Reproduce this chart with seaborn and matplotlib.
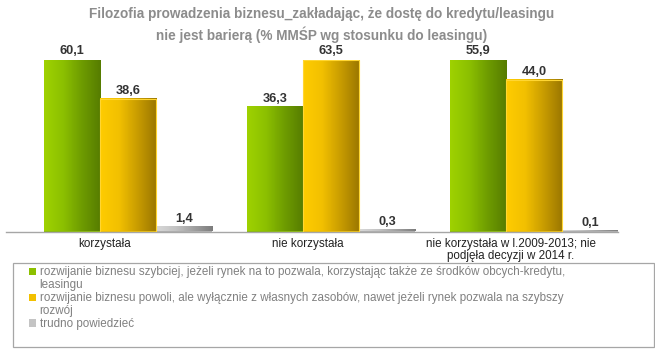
import numpy as np
import pandas as pd
import matplotlib
matplotlib.use("Agg")
import matplotlib.pyplot as plt
import seaborn as sns
from matplotlib.patches import Patch, Rectangle
from matplotlib.colors import LinearSegmentedColormap

# ---- data ----
categories = ["korzystała", "nie korzystała",
              "nie korzystała w l.2009-2013; nie\npodjęła decyzji w 2014 r."]
series = ["rozwijanie biznesu szybciej, jeżeli rynek na to pozwala, korzystając także ze środków obcych-kredytu, leasingu",
          "rozwijanie biznesu powoli, ale wyłącznie z własnych zasobów, nawet jeżeli rynek pozwala na szybszy rozwój",
          "trudno powiedzieć"]
legend_lines = [["rozwijanie biznesu szybciej, jeżeli rynek na to pozwala, korzystając także ze środków obcych-kredytu,",
                 "leasingu"],
                ["rozwijanie biznesu powoli, ale wyłącznie z własnych zasobów, nawet jeżeli rynek pozwala na szybszy",
                 "rozwój"],
                ["trudno powiedzieć"]]
fast_values = [60.1, 36.3, 55.9]
slow_values = [38.6, 63.5, 44.0]
unsure_values = [1.4, 0.3, 0.1]
title_lines = ["Filozofia prowadzenia biznesu_zakładając, że dostę do kredytu/leasingu",
               "nie jest barierą (% MMŚP wg stosunku do leasingu)"]

df = pd.DataFrame({
    "kategoria": categories * 3,
    "seria": [series[0]] * 3 + [series[1]] * 3 + [series[2]] * 3,
    "wartosc": fast_values + slow_values + unsure_values,
})

base_colors = ["#86bb00", "#f0c000", "#b0b0b0"]
gradients = [["#9fd200", "#8cc000", "#6e9c00", "#567c00"],
             ["#ffcc00", "#f2c000", "#c89c00", "#9a7600"],
             ["#d8d8d8", "#c4c4c4", "#a0a0a0", "#7c7c7c"]]

sns.set_theme(style="white")
plt.rcParams["font.family"] = ["Liberation Sans", "DejaVu Sans"]

fig = plt.figure(figsize=(6.55, 3.55), dpi=100)
W, H = 655, 355
ax = fig.add_axes([6 / W, (H - 231.5) / H, 612 / W, 172 / H])

sns.barplot(data=df, x="kategoria", y="wartosc", hue="seria", order=categories,
            hue_order=series, palette=base_colors, width=0.83, dodge=True,
            legend=False, ax=ax, saturation=1, linewidth=0, zorder=2)

YMAX = 50
for i, cont in enumerate(ax.containers):
    cmap = LinearSegmentedColormap.from_list(f"g{i}", gradients[i])
    grad = np.linspace(0, 1, 128).reshape(1, -1)
    for bar in cont:
        x0 = bar.get_x()
        w = bar.get_width()
        h = bar.get_height()
        top = min(h, YMAX)
        ax.imshow(grad, cmap=cmap, aspect="auto", extent=(x0, x0 + w, 0, top),
                  zorder=3, interpolation="bilinear")
        if i == 1:
            ax.add_patch(Rectangle((x0, 0), w, top, fill=False, edgecolor="#ffd633",
                                   linewidth=0.8, zorder=4))
        txt = f"{h:.1f}".replace(".", ",")
        ax.annotate(txt, (x0 + w / 2, top), xytext=(0, 1.5), textcoords="offset points",
                    ha="center", va="bottom", fontsize=9.2, fontweight="bold",
                    color="#333333", annotation_clip=False, zorder=5)

ax.set_ylim(0, YMAX)
ax.set_xlim(-0.602, 2.413)
ax.set_yticks([])
ax.set_ylabel("")
ax.set_xlabel("")
for s in ["top", "right", "left"]:
    ax.spines[s].set_visible(False)
ax.spines["bottom"].set_color("#a6a6a6")
ax.spines["bottom"].set_linewidth(1.0)

label_pos = [-0.115, 0.885, 1.885]
ax.set_xticks(label_pos)
ax.set_xticklabels(categories, fontsize=8.4, color="#222222", linespacing=1.0)
ax.tick_params(axis="x", which="major", length=0, pad=4.5)
ax.set_xticks([0.386, 1.40, 2.405], minor=True)
ax.tick_params(axis="x", which="minor", length=3, color="#a6a6a6", width=0.8, direction="out")

for k, (line, base) in enumerate(zip(title_lines, [18.3, 40.0])):
    fig.text(322 / W, 1 - base / H, line, ha="center", va="baseline", fontsize=9.8,
             fontweight="bold", color="#8c8c8c")

# legend box
fig.patches.append(Rectangle((13 / W, (H - 347) / H), 641 / W, 84 / H,
                             transform=fig.transFigure, fill=False,
                             edgecolor="#a6a6a6", linewidth=0.9))
handles, labels = [], []
for i, lines in enumerate(legend_lines):
    for j, ln in enumerate(lines):
        if j == 0:
            handles.append(Patch(facecolor=gradients[i][1], edgecolor="none"))
        else:
            handles.append(Patch(facecolor="none", edgecolor="none"))
        labels.append(ln)
leg = fig.legend(handles, labels, loc="upper left", bbox_to_anchor=(29 / W, 1 - 266.5 / H),
                 frameon=False, fontsize=8.4, labelspacing=0.08, handlelength=0.6,
                 handleheight=0.6, handletextpad=0.3, borderpad=0, borderaxespad=0)
for t in leg.get_texts():
    t.set_color("#808080")

fig.savefig("out.png", dpi=100)
